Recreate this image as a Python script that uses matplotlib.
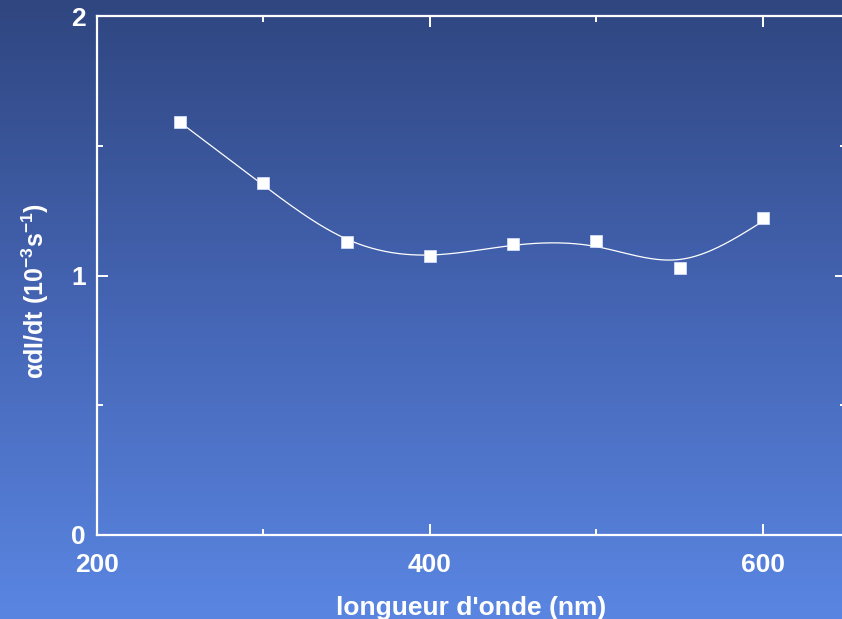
import numpy as np
import matplotlib.pyplot as plt
from matplotlib.colors import LinearSegmentedColormap
from matplotlib.ticker import MultipleLocator

plt.rcParams['font.family'] = ['Liberation Sans', 'DejaVu Sans']
plt.rcParams['font.weight'] = 'bold'
plt.rcParams['mathtext.fontset'] = 'custom'
plt.rcParams['mathtext.rm'] = 'Liberation Sans:bold'
plt.rcParams['mathtext.default'] = 'rm'

# data
wavelength = [250, 300, 350, 400, 450, 500, 550, 600]
rate = [1.59, 1.355, 1.13, 1.075, 1.12, 1.133, 1.03, 1.222]


def smooth_curve(x, y, lam):
    # penalised smoothing (Whittaker) on a 1 nm grid
    grid = np.arange(x[0], x[-1] + 1)
    n = len(grid)
    w = np.zeros(n)
    target = np.zeros(n)
    idx = np.searchsorted(grid, x)
    w[idx] = 1
    target[idx] = y
    d = np.diff(np.eye(n), 2, axis=0)
    z = np.linalg.solve(np.diag(w) + lam * d.T @ d, w * target)
    return grid, z


fig = plt.figure(figsize=(8.42, 6.19), dpi=100)

# gradient background
bg = fig.add_axes([0, 0, 1, 1], zorder=-1)
cmap = LinearSegmentedColormap.from_list('bg', ['#2f4680', '#4565b4', '#5a86e2'])
bg.imshow(np.linspace(0, 1, 256).reshape(-1, 1), aspect='auto', cmap=cmap,
          extent=[0, 1, 0, 1])
bg.axis('off')

ax = fig.add_axes([97 / 842, 1 - 535 / 619, 749 / 842, 519 / 619])
ax.patch.set_alpha(0)

gx, gz = smooth_curve(wavelength, rate, 5e3)
ax.plot(gx, gz, color='white', lw=0.9)
ax.plot(wavelength, rate, 's', color='white', markersize=8,
        markeredgecolor='#dde6ff', markeredgewidth=0.5)

ax.set_xlim(200, 650)
ax.set_ylim(0, 2)
ax.xaxis.set_major_locator(MultipleLocator(200))
ax.xaxis.set_minor_locator(MultipleLocator(100))
ax.yaxis.set_major_locator(MultipleLocator(1))
ax.yaxis.set_minor_locator(MultipleLocator(0.5))

for s in ax.spines.values():
    s.set_color('white')
    s.set_linewidth(1.6)
ax.tick_params(which='both', direction='in', top=True, right=True,
               colors='white', labelsize=19, width=1.4)
ax.tick_params(which='major', length=8, pad=8)
ax.tick_params(which='minor', length=4.5)
ax.tick_params(axis='x', which='major', pad=13)

ax.set_xlabel("longueur d'onde (nm)", color='white', fontsize=19,
              fontweight='bold', labelpad=14)
ax.set_ylabel(r"αdI/dt (10$^{-3}$s$^{-1}$)", color='white', fontsize=18,
              fontweight='bold')
ax.yaxis.set_label_coords(-0.062, 0.47)

fig.savefig('out.png', dpi=100)
